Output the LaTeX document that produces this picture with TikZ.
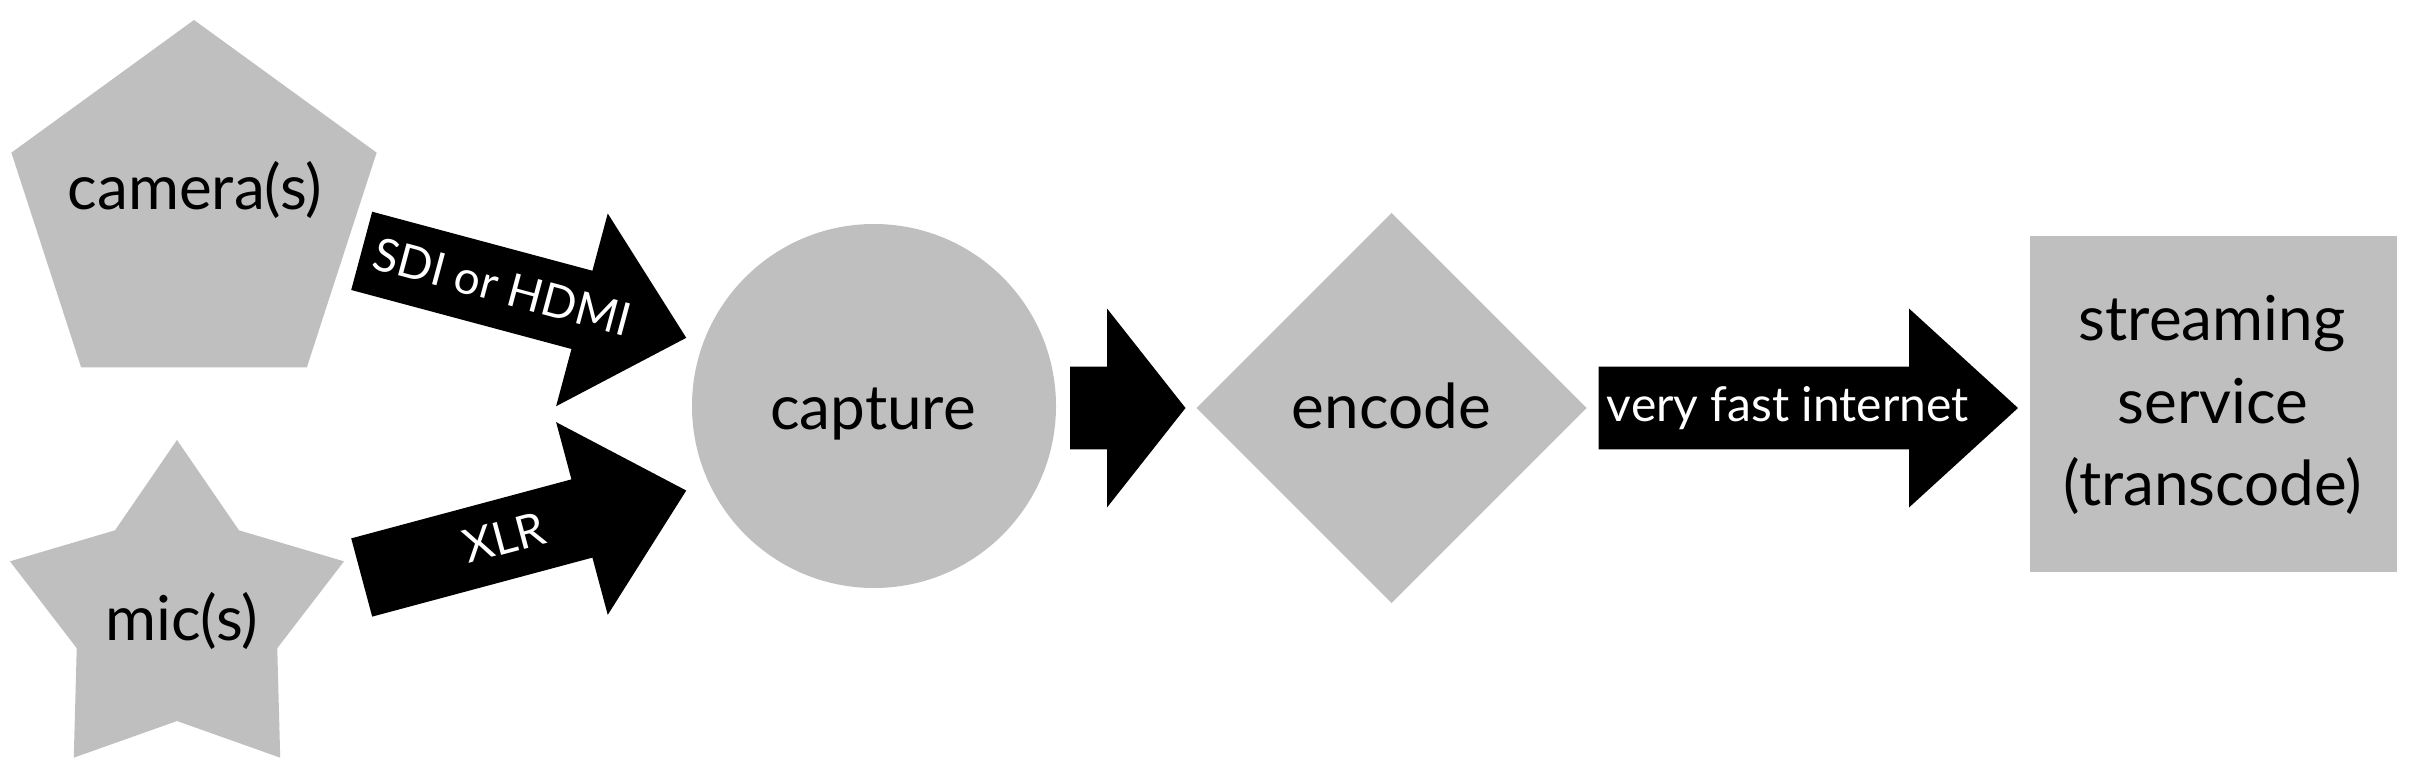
\documentclass[tikz,border=0pt]{standalone}
\usepackage{fontspec}
\setmainfont{Lato}
\usetikzlibrary{shapes.geometric}
\definecolor{shapegray}{RGB}{191,191,191}
\begin{document}
\begin{tikzpicture}[x=1pt,y=-1pt,
  shp/.style={fill=shapegray, draw=none, inner sep=0pt, outer sep=0pt},
  lbl/.style={inner sep=0pt, outer sep=0pt, anchor=base, text=black, font=\fontsize{62}{74}\selectfont},
  arrlbl/.style={inner sep=0pt, outer sep=0pt, anchor=base, text=white, font=\fontsize{46}{55}\selectfont},
  netlbl/.style={inner sep=0pt, outer sep=0pt, anchor=base, text=white, font=\fontsize{48}{58}\selectfont},
  blk/.style={fill=black, draw=none},
  pics/barrow/.style n args={4}{code={
    \fill[blk] (0,-#2) -- (#1,-#2) -- (#1,-#3) -- (#4,0) -- (#1,#3) -- (#1,#2) -- (0,#2) -- cycle;}}]
\fill[white] (0,0) rectangle (2420,778);
\useasboundingbox (0,0) rectangle (2420,778);

% shapes
\node[shp, regular polygon, regular polygon sides=5, minimum size=384pt] (cam) at (194,212) {};
\node[shp, star, star points=5, star point ratio=1.666, minimum size=351.2pt] (mic) at (177,615.6) {};
\node[shp, circle, minimum size=364pt] (cap) at (874,406) {};
\node[shp, diamond, minimum width=390pt, minimum height=390pt] (enc) at (1391.6,408) {};
\node[shp, rectangle, minimum width=367pt, minimum height=335.7pt] (svc) at (2213.5,403.9) {};

% texts
\node[lbl] (camt) at (195,210) {camera(s)};
\node[lbl] (mict) at (181.7,640) {mic(s)};
\node[lbl] (capt) at (873,429.5) {capture};
\node[lbl] (enct) at (1391.3,428) {encode};
\node[lbl] (svc1) at (2212,340) {streaming};
\node[lbl] (svc2) at (2213,423.3) {service};
\node[lbl] (svc3) at (2213,505) {(transcode)};

% block arrows
\pic[rotate=-15] at (361.7,250.85) {barrow={228}{40.5}{99.75}{336}};
\pic[rotate=15] at (361.7,577.5) {barrow={228}{40.5}{99.75}{336}};
\pic at (1070,408) {barrow={37}{41.3}{99.5}{115.5}};
\pic at (1598.7,408) {barrow={310.3}{41.3}{99.5}{419.3}};

% arrow labels
\node[arrlbl, rotate=-15] (sdi) at (498,302.6) {SDI or HDMI};
\node[arrlbl, rotate=15] (xlr) at (508.4,553.3) {XLR};
\node[netlbl] (net) at (1787.8,421.7) {very fast internet};
\end{tikzpicture}
\end{document}
